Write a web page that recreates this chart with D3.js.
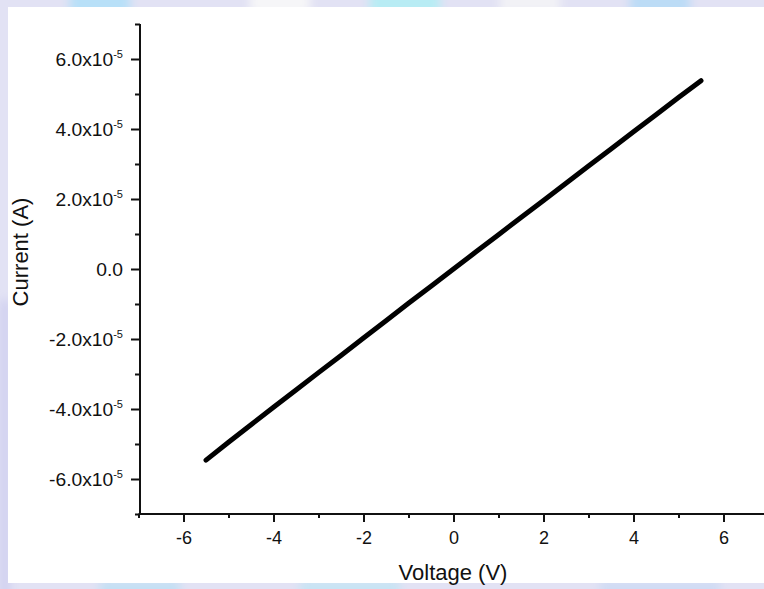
<!DOCTYPE html>
<html><head><meta charset="utf-8">
<script src="https://cdn.jsdelivr.net/npm/d3@7"></script>
<style>html,body{margin:0;padding:0;background:#fff;}svg{display:block;}text{font-family:"Liberation Sans",Arial,sans-serif;fill:#111;}</style>
</head><body>
<svg id="chart" width="764" height="589"></svg>
<script>
// Data
const voltage = [-5.5,-5,-4.5,-4,-3.5,-3,-2.5,-2,-1.5,-1,-0.5,0,0.5,1,1.5,2,2.5,3,3.5,4,4.5,5,5.5];
const current = [-5.46e-5,-4.95e-5,-4.45e-5,-3.95e-5,-3.46e-5,-2.96e-5,-2.47e-5,-1.97e-5,-1.48e-5,-0.98e-5,-0.49e-5,0,0.49e-5,0.98e-5,1.47e-5,1.96e-5,2.45e-5,2.94e-5,3.43e-5,3.92e-5,4.41e-5,4.90e-5,5.38e-5];
const xMajorTicks = [-6,-4,-2,0,2,4,6];
const xMajorLabels = ["-6","-4","-2","0","2","4","6"];
const xMinorTicks = [-7,-5,-3,-1,1,3,5,7];
const yMajorTicks = [-6e-5,-4e-5,-2e-5,0,2e-5,4e-5,6e-5];
const yMajorLabels = ["-6.0x10","-4.0x10","-2.0x10","0.0","2.0x10","4.0x10","6.0x10"];
const yMinorTicks = [-7e-5,-5e-5,-3e-5,-1e-5,1e-5,3e-5,5e-5,7e-5];

const svg = d3.select("#chart");
const W = 764, H = 589;

// background frame (lavender/blue watermark border)
const defs = svg.append("defs");
defs.append("filter").attr("id","blur").append("feGaussianBlur").attr("stdDeviation",5);
svg.append("rect").attr("width",W).attr("height",H).attr("fill","#e2e2f4");
const blobs = svg.append("g").attr("filter","url(#blur)");
[[70,-10,60,30,"#b8e0f8"],[370,-10,70,30,"#b8ecf4"],[630,-10,60,30,"#bcdcf6"],[250,-10,60,25,"#f6f6f8"],[500,-10,60,25,"#f2f2f6"],
 [0,300,10,300,"#d0d0f0"],[100,580,80,20,"#c4e0f4"],[300,580,100,20,"#c8e4f4"],[600,580,120,20,"#d0dcf4"]].forEach(b=>{
  blobs.append("rect").attr("x",b[0]).attr("y",b[1]).attr("width",b[2]).attr("height",b[3]).attr("fill",b[4]);
});
svg.append("rect").attr("x",8).attr("y",7).attr("width",W-8).attr("height",576).attr("fill","#ffffff");

const x = d3.scaleLinear().domain([-7,7]).range([138.5,768.5]);
const y = d3.scaleLinear().domain([-7e-5,7e-5]).range([514,24]);

// X axis
const xAxis = svg.append("g").attr("transform","translate(0,514)");
xAxis.call(d3.axisBottom(x).tickValues(xMajorTicks).tickSize(8).tickPadding(6)
  .tickFormat((d,i)=>xMajorLabels[i]));
xAxis.append("g").call(d3.axisBottom(x).tickValues(xMinorTicks).tickSize(4).tickFormat(""))
  .call(g=>g.select(".domain").remove());
xAxis.selectAll(".domain").attr("stroke","#111").attr("stroke-width",2).attr("d","M138.5,0H768.5");
xAxis.selectAll(".tick line").attr("stroke","#111").attr("stroke-width",2);
xAxis.attr("font-size",18).attr("font-family","Liberation Sans, Arial, sans-serif");
xAxis.selectAll(".tick text").attr("font-size",18).attr("fill","#111").attr("dy","0.9em");

// Y axis
const yAxis = svg.append("g").attr("transform","translate(140,0)");
yAxis.call(d3.axisLeft(y).tickValues(yMajorTicks).tickSize(9).tickPadding(6).tickFormat(""));
yAxis.append("g").call(d3.axisLeft(y).tickValues(yMinorTicks).tickSize(5).tickFormat(""))
  .call(g=>g.select(".domain").remove());
yAxis.selectAll(".domain").attr("stroke","#111").attr("stroke-width",2).attr("d","M0,24V515");
yAxis.selectAll(".tick line").attr("stroke","#111").attr("stroke-width",2);

// Y tick labels with superscript exponent
yMajorTicks.forEach((v,i)=>{
  const lab = yMajorLabels[i];
  const t = svg.append("text").attr("x",123).attr("y",y(v)+7).attr("text-anchor","end")
    .attr("font-size",17.5).attr("transform",`translate(123,0) scale(1.1,1) translate(-123,0)`);
  t.append("tspan").text(lab);
  if (lab !== "0.0") {
    t.append("tspan").attr("font-size",10).attr("dy",-8).text("-5");
  }
});

// line
const line = d3.line().x((d,i)=>x(voltage[i])).y((d,i)=>y(current[i]));
svg.append("path").datum(current).attr("d",line).attr("fill","none")
  .attr("stroke","#000").attr("stroke-width",5).attr("stroke-linecap","round").attr("stroke-linejoin","round");

// axis titles
svg.append("text").attr("x",453).attr("y",580).attr("text-anchor","middle").attr("font-size",22)
  .text("Voltage (V)");
svg.append("text").attr("transform","translate(28,252) rotate(-90)").attr("text-anchor","middle").attr("font-size",22)
  .text("Current (A)");
</script>
</body></html>
